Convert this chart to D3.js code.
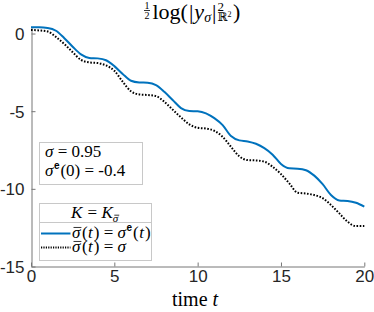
<!DOCTYPE html>
<html lang="en">
<head>
  <meta charset="UTF-8">
  <title>Log norm of y sigma</title>
  <script src="https://d3js.org/d3.v7.min.js"></script>
  <style>
    body { margin: 0; background: white; }
    svg { display: block; }
    .axis path, .axis line { stroke: #777; }
    .axis text { font-family: "Liberation Sans", Arial, sans-serif; font-size: 17px; fill: #262626; }
  </style>
</head>
<body>
  <svg id="chart" width="374" height="312"></svg>

  <script>
    // sample times and values
    const times = [0, 0.5, 1, 1.5, 2, 2.5, 3, 3.5, 4, 4.5, 5, 5.5, 6, 6.5, 7, 7.5, 8, 8.5, 9, 9.5,
      10, 10.5, 11, 11.5, 12, 12.5, 13, 13.5, 14, 14.5, 15, 15.5, 16, 16.5, 17, 17.5, 18, 18.5, 19, 19.5, 20];
    const sigmaE = [0.40, 0.40, 0.36, 0.18, -0.30, -0.85, -1.34, -1.57, -1.60, -1.72, -2.10, -2.60, -3.04, -3.15,
      -3.17, -3.32, -3.75, -4.28, -4.80, -4.99, -5.01, -5.14, -5.45, -5.90, -6.60, -6.88, -6.95, -7.10, -7.38,
      -7.80, -8.40, -8.68, -8.70, -8.80, -9.15, -9.70, -10.40, -10.75, -10.78, -10.90, -11.15];
    const sigmaConst = [0.23, 0.20, 0.13, -0.22, -0.68, -1.20, -1.70, -1.86, -1.90, -2.05, -2.40, -3.10, -3.72,
      -3.92, -3.96, -4.03, -4.40, -4.90, -5.40, -5.85, -6.07, -6.12, -6.26, -6.65, -7.29, -7.90, -8.15, -8.17,
      -8.25, -8.58, -9.05, -9.65, -10.25, -10.30, -10.40, -10.60, -11.04, -11.58, -12.12, -12.40, -12.40];
    const xTicks = [0, 5, 10, 15, 20];
    const yTicks = [0, -5, -10, -15];

    const serif = "'Liberation Serif', 'DejaVu Serif', serif";
    const sans = "'Liberation Sans', Arial, sans-serif";

    const svg = d3.select("#chart");
    const x = d3.scaleLinear().domain([0, 20]).range([31, 364.3]);
    const y = d3.scaleLinear().domain([-15, 0.42]).range([266.5, 27]);

    svg.append("g")
      .attr("class", "axis")
      .attr("transform", "translate(0,266.5)")
      .call(d3.axisBottom(x).tickValues(xTicks).tickFormat(d => String(d))
        .tickSize(-4).tickSizeOuter(0).tickPadding(3));

    svg.append("g")
      .attr("class", "axis")
      .attr("transform", "translate(31.5,0)")
      .call(d3.axisLeft(y).tickValues(yTicks).tickFormat(d => String(d))
        .tickSize(-4).tickSizeOuter(0).tickPadding(7))
      .selectAll("text").attr("dy", "0.36em");

    const line = d3.line()
      .x((d, i) => x(times[i]))
      .y(d => y(d))
      .curve(d3.curveMonotoneX);

    svg.append("path")
      .attr("d", line(sigmaConst))
      .attr("fill", "none")
      .attr("stroke", "#000")
      .attr("stroke-width", 2)
      .attr("stroke-dasharray", "1.6,1.6");

    svg.append("path")
      .attr("d", line(sigmaE))
      .attr("fill", "none")
      .attr("stroke", "#0072BD")
      .attr("stroke-width", 2);

    // draws a row of text pieces one after the other
    function mathRun(parent, x0, base, runs) {
      let cx = x0;
      runs.forEach(r => {
        const t = parent.append("text")
          .attr("x", cx + (r.dx || 0))
          .attr("y", base + (r.dy || 0))
          .attr("font-size", r.size)
          .attr("font-family", r.sans ? sans : serif)
          .attr("font-style", r.it ? "italic" : "normal")
          .attr("font-weight", r.bold ? "bold" : "normal")
          .attr("fill", "#000")
          .style("white-space", "pre")
          .text(r.s);
        const w = t.node().getComputedTextLength();
        if (r.bar) {
          parent.append("line")
            .attr("x1", cx + 1.5).attr("x2", cx + w + 1)
            .attr("y1", base + (r.dy || 0) - r.size * 0.62)
            .attr("y2", base + (r.dy || 0) - r.size * 0.62)
            .attr("stroke", "#000").attr("stroke-width", 0.8);
        }
        if (!r.stack) cx += w + (r.dx || 0);
      });
      return cx;
    }

    // title
    const title = svg.append("g");
    title.append("text").attr("x", 147).attr("y", 8.5).attr("text-anchor", "middle")
      .attr("font-family", serif).attr("font-size", 10).text("1");
    title.append("text").attr("x", 147).attr("y", 18.5).attr("text-anchor", "middle")
      .attr("font-family", serif).attr("font-size", 10).text("2");
    title.append("line").attr("x1", 144).attr("x2", 150).attr("y1", 10.5).attr("y2", 10.5)
      .attr("stroke", "#000").attr("stroke-width", 0.8);
    mathRun(title, 152.5, 18.5, [
      { s: "log(", size: 22 },
      { s: "|", size: 22, dx: 1 },
      { s: "y", size: 22, it: true, dx: 1 },
      { s: "σ", size: 14, it: true, dy: 3 },
      { s: "|", size: 22, dx: 1 },
      { s: "2", size: 13, dy: -8, dx: 1, stack: true },
      { s: "ℝ", size: 12, dy: 2, dx: 1 },
      { s: "2", size: 8, dy: -2 },
      { s: ")", size: 22, dx: 1.5 }
    ]);

    // x label
    mathRun(svg, 172, 306, [
      { s: "time ", size: 20 },
      { s: "t", size: 20, it: true }
    ]);

    // parameter box
    svg.append("rect").attr("x", 39.5).attr("y", 142.5).attr("width", 103).attr("height", 42)
      .attr("fill", "white").attr("stroke", "#c8c8c8");
    mathRun(svg, 45, 156.5, [
      { s: "σ", size: 17, it: true },
      { s: " = 0.95", size: 17 }
    ]);
    mathRun(svg, 45, 176, [
      { s: "σ", size: 17, it: true },
      { s: "e", size: 10, sans: true, bold: true, dy: -7, dx: 0.5 },
      { s: "(0) = -0.4", size: 17, dx: 1 }
    ]);

    // legend
    const leg = svg.append("g");
    leg.append("rect").attr("x", 39.5).attr("y", 203.5).attr("width", 112).attr("height", 57)
      .attr("fill", "white").attr("stroke", "#c8c8c8");
    leg.append("line").attr("x1", 39.5).attr("x2", 151.5).attr("y1", 222.5).attr("y2", 222.5)
      .attr("stroke", "#c8c8c8");
    mathRun(leg, 71, 218, [
      { s: "K", size: 17, it: true },
      { s: " = ", size: 17, dx: 1 },
      { s: "K", size: 17, it: true },
      { s: "σ", size: 11, it: true, dy: 4, bar: true }
    ]);
    leg.append("line").attr("x1", 41).attr("x2", 70.5).attr("y1", 233.5).attr("y2", 233.5)
      .attr("stroke", "#0072BD").attr("stroke-width", 2);
    leg.append("line").attr("x1", 41).attr("x2", 70.5).attr("y1", 247.5).attr("y2", 247.5)
      .attr("stroke", "#000").attr("stroke-width", 2).attr("stroke-dasharray", "1.2,1.2");
    mathRun(leg, 72, 238, [
      { s: "σ", size: 17, it: true, bar: true },
      { s: "(", size: 17, dx: 1.5 },
      { s: "t", size: 17, it: true, dx: 0.5 },
      { s: ") = ", size: 17, dx: 1 },
      { s: "σ", size: 17, it: true },
      { s: "e", size: 10, sans: true, bold: true, dy: -7, dx: 0.5 },
      { s: "(", size: 17, dx: 1 },
      { s: "t", size: 17, it: true, dx: 0.5 },
      { s: ")", size: 17, dx: 1 }
    ]);
    mathRun(leg, 72, 252, [
      { s: "σ", size: 17, it: true, bar: true },
      { s: "(", size: 17, dx: 1.5 },
      { s: "t", size: 17, it: true, dx: 0.5 },
      { s: ") = ", size: 17, dx: 1 },
      { s: "σ", size: 17, it: true }
    ]);
  </script>
</body>
</html>
